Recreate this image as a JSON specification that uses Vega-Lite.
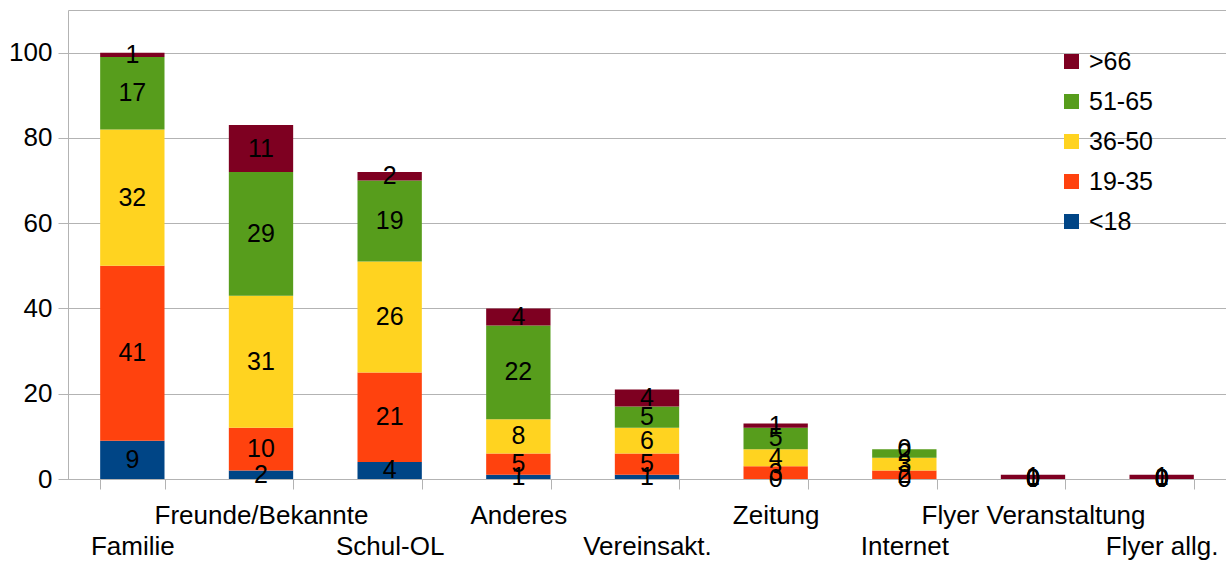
{
  "$schema": "https://vega.github.io/schema/vega-lite/v6.json",
  "autosize": "none",
  "width": 1158,
  "height": 469,
  "padding": {"left": 68, "top": 10, "right": 0, "bottom": 86},
  "background": "white",
  "config": {
    "view": {"stroke": "#b3b3b3", "strokeWidth": 1},
    "font": "Liberation Sans",
    "axis": {"labelFont": "Liberation Sans", "labelColor": "black", "labelFontSize": 26, "titleFont": "Liberation Sans"},
    "legend": {"labelFont": "Liberation Sans"}
  },
  "data": {
    "values": [
      {"cat": "Familie", "age": "<18", "o": 1, "value": 9},
      {"cat": "Familie", "age": "19-35", "o": 2, "value": 41},
      {"cat": "Familie", "age": "36-50", "o": 3, "value": 32},
      {"cat": "Familie", "age": "51-65", "o": 4, "value": 17},
      {"cat": "Familie", "age": ">66", "o": 5, "value": 1},
      {"cat": "Freunde/Bekannte", "age": "<18", "o": 1, "value": 2},
      {"cat": "Freunde/Bekannte", "age": "19-35", "o": 2, "value": 10},
      {"cat": "Freunde/Bekannte", "age": "36-50", "o": 3, "value": 31},
      {"cat": "Freunde/Bekannte", "age": "51-65", "o": 4, "value": 29},
      {"cat": "Freunde/Bekannte", "age": ">66", "o": 5, "value": 11},
      {"cat": "Schul-OL", "age": "<18", "o": 1, "value": 4},
      {"cat": "Schul-OL", "age": "19-35", "o": 2, "value": 21},
      {"cat": "Schul-OL", "age": "36-50", "o": 3, "value": 26},
      {"cat": "Schul-OL", "age": "51-65", "o": 4, "value": 19},
      {"cat": "Schul-OL", "age": ">66", "o": 5, "value": 2},
      {"cat": "Anderes", "age": "<18", "o": 1, "value": 1},
      {"cat": "Anderes", "age": "19-35", "o": 2, "value": 5},
      {"cat": "Anderes", "age": "36-50", "o": 3, "value": 8},
      {"cat": "Anderes", "age": "51-65", "o": 4, "value": 22},
      {"cat": "Anderes", "age": ">66", "o": 5, "value": 4},
      {"cat": "Vereinsakt.", "age": "<18", "o": 1, "value": 1},
      {"cat": "Vereinsakt.", "age": "19-35", "o": 2, "value": 5},
      {"cat": "Vereinsakt.", "age": "36-50", "o": 3, "value": 6},
      {"cat": "Vereinsakt.", "age": "51-65", "o": 4, "value": 5},
      {"cat": "Vereinsakt.", "age": ">66", "o": 5, "value": 4},
      {"cat": "Zeitung", "age": "<18", "o": 1, "value": 0},
      {"cat": "Zeitung", "age": "19-35", "o": 2, "value": 3},
      {"cat": "Zeitung", "age": "36-50", "o": 3, "value": 4},
      {"cat": "Zeitung", "age": "51-65", "o": 4, "value": 5},
      {"cat": "Zeitung", "age": ">66", "o": 5, "value": 1},
      {"cat": "Internet", "age": "<18", "o": 1, "value": 0},
      {"cat": "Internet", "age": "19-35", "o": 2, "value": 2},
      {"cat": "Internet", "age": "36-50", "o": 3, "value": 3},
      {"cat": "Internet", "age": "51-65", "o": 4, "value": 2},
      {"cat": "Internet", "age": ">66", "o": 5, "value": 0},
      {"cat": "Flyer Veranstaltung", "age": "<18", "o": 1, "value": 0},
      {"cat": "Flyer Veranstaltung", "age": "19-35", "o": 2, "value": 0},
      {"cat": "Flyer Veranstaltung", "age": "36-50", "o": 3, "value": 0},
      {"cat": "Flyer Veranstaltung", "age": "51-65", "o": 4, "value": 0},
      {"cat": "Flyer Veranstaltung", "age": ">66", "o": 5, "value": 1},
      {"cat": "Flyer allg.", "age": "<18", "o": 1, "value": 0},
      {"cat": "Flyer allg.", "age": "19-35", "o": 2, "value": 0},
      {"cat": "Flyer allg.", "age": "36-50", "o": 3, "value": 0},
      {"cat": "Flyer allg.", "age": "51-65", "o": 4, "value": 0},
      {"cat": "Flyer allg.", "age": ">66", "o": 5, "value": 1}
    ]
  },
  "transform": [
    {"stack": "value", "groupby": ["cat"], "sort": [{"field": "o", "order": "ascending"}], "as": ["v0", "v1"]},
    {"calculate": "(datum.v0 + datum.v1) / 2", "as": "mid"}
  ],
  "encoding": {
    "x": {
      "field": "cat",
      "type": "nominal",
      "sort": ["Familie", "Freunde/Bekannte", "Schul-OL", "Anderes", "Vereinsakt.", "Zeitung", "Internet", "Flyer Veranstaltung", "Flyer allg."],
      "scale": {"paddingInner": 0.5, "paddingOuter": 0.25},
      "axis": {
        "title": null,
        "labelAngle": 0,
        "tickBand": "extent",
        "tickSize": 10,
        "tickColor": "#b3b3b3",
        "domainColor": "#b3b3b3",
        "labelBaseline": "top",
        "labelPadding": {"condition": {"test": "indexof(['Familie','Schul-OL','Vereinsakt.','Internet','Flyer allg.'], datum.value) >= 0", "value": 44}, "value": 13},
        "labelOverlap": false,
        "labelBound": false,
        "labelLimit": 0
      }
    }
  },
  "layer": [
    {
      "mark": {"type": "bar"},
      "encoding": {
        "y": {
          "field": "v1",
          "type": "quantitative",
          "scale": {"domain": [0, 110], "nice": false},
          "axis": {
            "title": null,
            "values": [0, 20, 40, 60, 80, 100],
            "grid": true,
            "gridColor": "#b3b3b3",
            "domain": false,
            "tickSize": 10,
            "tickColor": "#b3b3b3",
            "labelPadding": 6
          }
        },
        "y2": {"field": "v0"},
        "color": {
          "field": "age",
          "type": "nominal",
          "scale": {
            "domain": [">66", "51-65", "36-50", "19-35", "<18"],
            "range": ["#7e0021", "#579d1c", "#ffd320", "#ff420e", "#004586"]
          },
          "legend": {
            "title": null,
            "orient": "none",
            "legendX": 991,
            "legendY": 39,
            "symbolType": "square",
            "symbolSize": 225,
            "symbolStrokeWidth": 0,
            "symbolOpacity": 1,
            "labelFontSize": 25,
            "labelColor": "black",
            "labelOffset": 5,
            "rowPadding": 14
          }
        }
      }
    },
    {
      "mark": {"type": "text", "fontSize": 25, "color": "black", "baseline": "middle", "align": "center"},
      "encoding": {
        "y": {"field": "mid", "type": "quantitative"},
        "text": {"field": "value", "type": "quantitative"}
      }
    }
  ]
}
